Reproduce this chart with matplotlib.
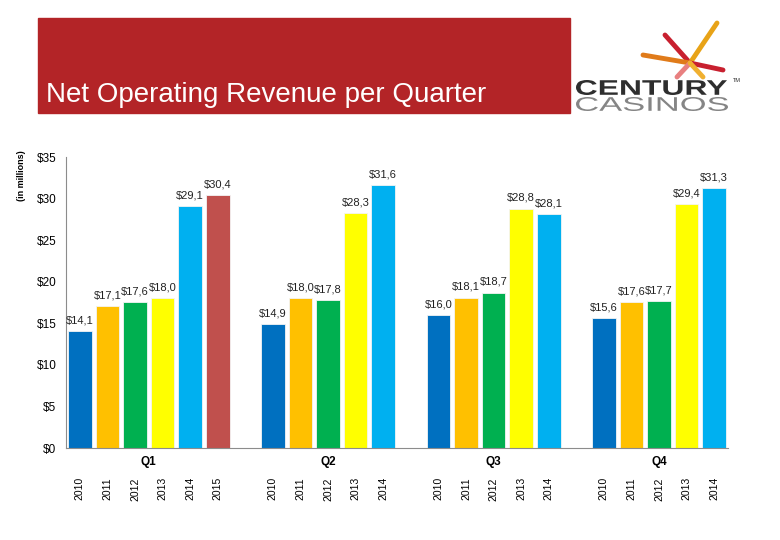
import numpy as np
import matplotlib.pyplot as plt
from matplotlib.patches import Rectangle, PathPatch
from matplotlib.lines import Line2D
from matplotlib.textpath import TextPath
from matplotlib.font_manager import FontProperties
from matplotlib.transforms import Affine2D

plt.rcParams['font.family'] = ['Liberation Sans', 'DejaVu Sans']

years = ['2010', '2011', '2012', '2013', '2014', '2015']
colors = ['#0070C0', '#FFC000', '#00B050', '#FFFF00', '#00B0F0', '#C0504D']
quarters = ['Q1', 'Q2', 'Q3', 'Q4']

q1 = [14.1, 17.1, 17.6, 18.0, 29.1, 30.4]
q2 = [14.9, 18.0, 17.8, 28.3, 31.6]
q3 = [16.0, 18.1, 18.7, 28.8, 28.1]
q4 = [15.6, 17.6, 17.7, 29.4, 31.3]
series = [q1, q2, q3, q4]

yticks = [0, 5, 10, 15, 20, 25, 30, 35]

W, H = 780, 540
fig = plt.figure(figsize=(7.8, 5.4), dpi=100)

# red header band with title
fig.patches.append(Rectangle((38/W, 1-113/H), 532/W, 95/H,
                             transform=fig.transFigure, color='#B32427', zorder=0))
fig.text(46/W, 1-102/H, 'Net Operating Revenue per Quarter', color='white',
         fontsize=20, va='baseline', ha='left')

# logo (rough)
burst = [((690, 63), (665, 35), '#C8202F'), ((690, 63), (717, 23), '#E8A317'),
         ((690, 63), (643, 55), '#E07B1A'), ((690, 63), (723, 70), '#C8202F'),
         ((690, 63), (677, 77), '#E88080'), ((690, 63), (703, 77), '#F0B030')]
for (x0, y0), (x1, y1), c in burst:
    fig.add_artist(Line2D([x0/W, x1/W], [1-y0/H, 1-y1/H], color=c, lw=3.5,
                          solid_capstyle='round', transform=fig.transFigure))


def wide_word(word, x0, x1, ytop, ybot, color, weight):
    tp = TextPath((0, 0), word, size=20,
                  prop=FontProperties(family='Liberation Sans', weight=weight))
    ext = tp.get_extents()
    sx = (x1 - x0) / ext.width
    sy = (ybot - ytop) / ext.height
    tr = Affine2D().translate(-ext.x0, -ext.y0).scale(sx, sy).translate(x0, H - ybot)
    fig.patches.append(PathPatch(tp, transform=tr, color=color, lw=0))


wide_word('CENTURY', 576, 727, 80, 95, '#2E2E2E', 'bold')
wide_word('CASINOS', 576, 728, 97, 111, '#858585', 'normal')
fig.text(737/W, 1-80/H, 'TM', fontsize=4, color='#2E2E2E', ha='center', va='center')

ax = fig.add_axes([66/W, 1-448/H, 662/W, 291/H])

start = [0, 7, 13, 19]
tick_pos = []
tick_lab = []
for qi, vals in enumerate(series):
    xs = np.arange(len(vals)) + start[qi] + 0.5
    bars = ax.bar(xs, vals, width=0.86, color=colors[:len(vals)],
                  edgecolor='#F4F4F4', linewidth=0.6)
    ax.bar_label(bars, labels=['$' + f'{v:.1f}'.replace('.', ',') for v in vals],
                 padding=4, fontsize=8, color='#222222')
    tick_pos += list(xs)
    tick_lab += years[:len(vals)]
    ax.annotate(quarters[qi], xy=(xs.mean(), 0), xycoords=('data', 'axes fraction'),
                xytext=(0, -10), textcoords='offset points', ha='center', va='center',
                fontsize=8.5, fontweight='bold')

ax.set_xlim(0, 24)
ax.set_ylim(0, 35)
ax.set_xticks(tick_pos)
ax.set_xticklabels(tick_lab, rotation=90, fontsize=7.5, va='top')
ax.set_yticks(yticks)
ax.set_yticklabels(['$%d' % v for v in yticks], fontsize=8.5)
ax.tick_params(axis='x', length=0, pad=21)
ax.tick_params(axis='y', length=0, pad=7)
for s in ['top', 'right']:
    ax.spines[s].set_visible(False)
for s in ['left', 'bottom']:
    ax.spines[s].set_color('#8C8C8C')
    ax.spines[s].set_linewidth(0.8)

fig.text(22/W, 1-176/H, '(in millions)', rotation=90, fontsize=6.5,
         fontweight='bold', ha='center', va='center')

fig.savefig('out.png', dpi=100)
